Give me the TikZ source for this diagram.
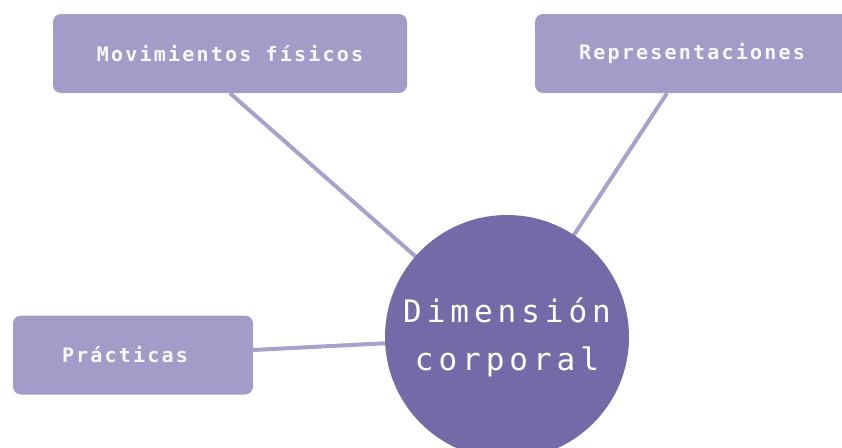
\documentclass[tikz,border=0pt]{standalone}
\usepackage{fontspec}
\usetikzlibrary{backgrounds}
\newfontfamily\boxfont[LetterSpace=11]{DejaVu Sans Mono}
\newfontfamily\hubfont[LetterSpace=16]{DejaVu Sans Mono}
\definecolor{boxfill}{HTML}{A29DC8}
\definecolor{hubfill}{HTML}{736BA8}
\definecolor{linkcol}{HTML}{A7A1CC}

\begin{document}
\begin{tikzpicture}[x=1pt,y=-1pt,
    box/.style={fill=boxfill,rounded corners=8pt,minimum height=79pt,inner sep=0pt,
      text=white!92!boxfill,font=\boxfont\bfseries\fontsize{20}{24}\selectfont},
    hub/.style={circle,fill=hubfill,minimum size=244pt,inner sep=0pt,align=center,
      text=white,font=\hubfont\fontsize{31}{48}\selectfont},
    link/.style={draw=linkcol,line width=4pt}]
    \useasboundingbox (0,0) rectangle (842,447);
    \node[box,minimum width=354pt] (mov) at (230,53.5) {Movimientos físicos};
    \node[box,minimum width=314pt] (rep) at (692,53.5) {Representaciones};
    \node[box,minimum width=240pt] (pra) at (133,355) {Prácticas\hspace*{16pt}};
    \node[hub] (dim) at (507,337) {Dimensión\\corporal};
    \begin{scope}[on background layer]
      \draw[link] (mov.south) -- (dim.center);
      \draw[link] ([xshift=-25pt]rep.south) -- (dim.center);
      \draw[link] ([yshift=5pt]pra.east) -- (dim.center);
    \end{scope}
\end{tikzpicture}
\end{document}
